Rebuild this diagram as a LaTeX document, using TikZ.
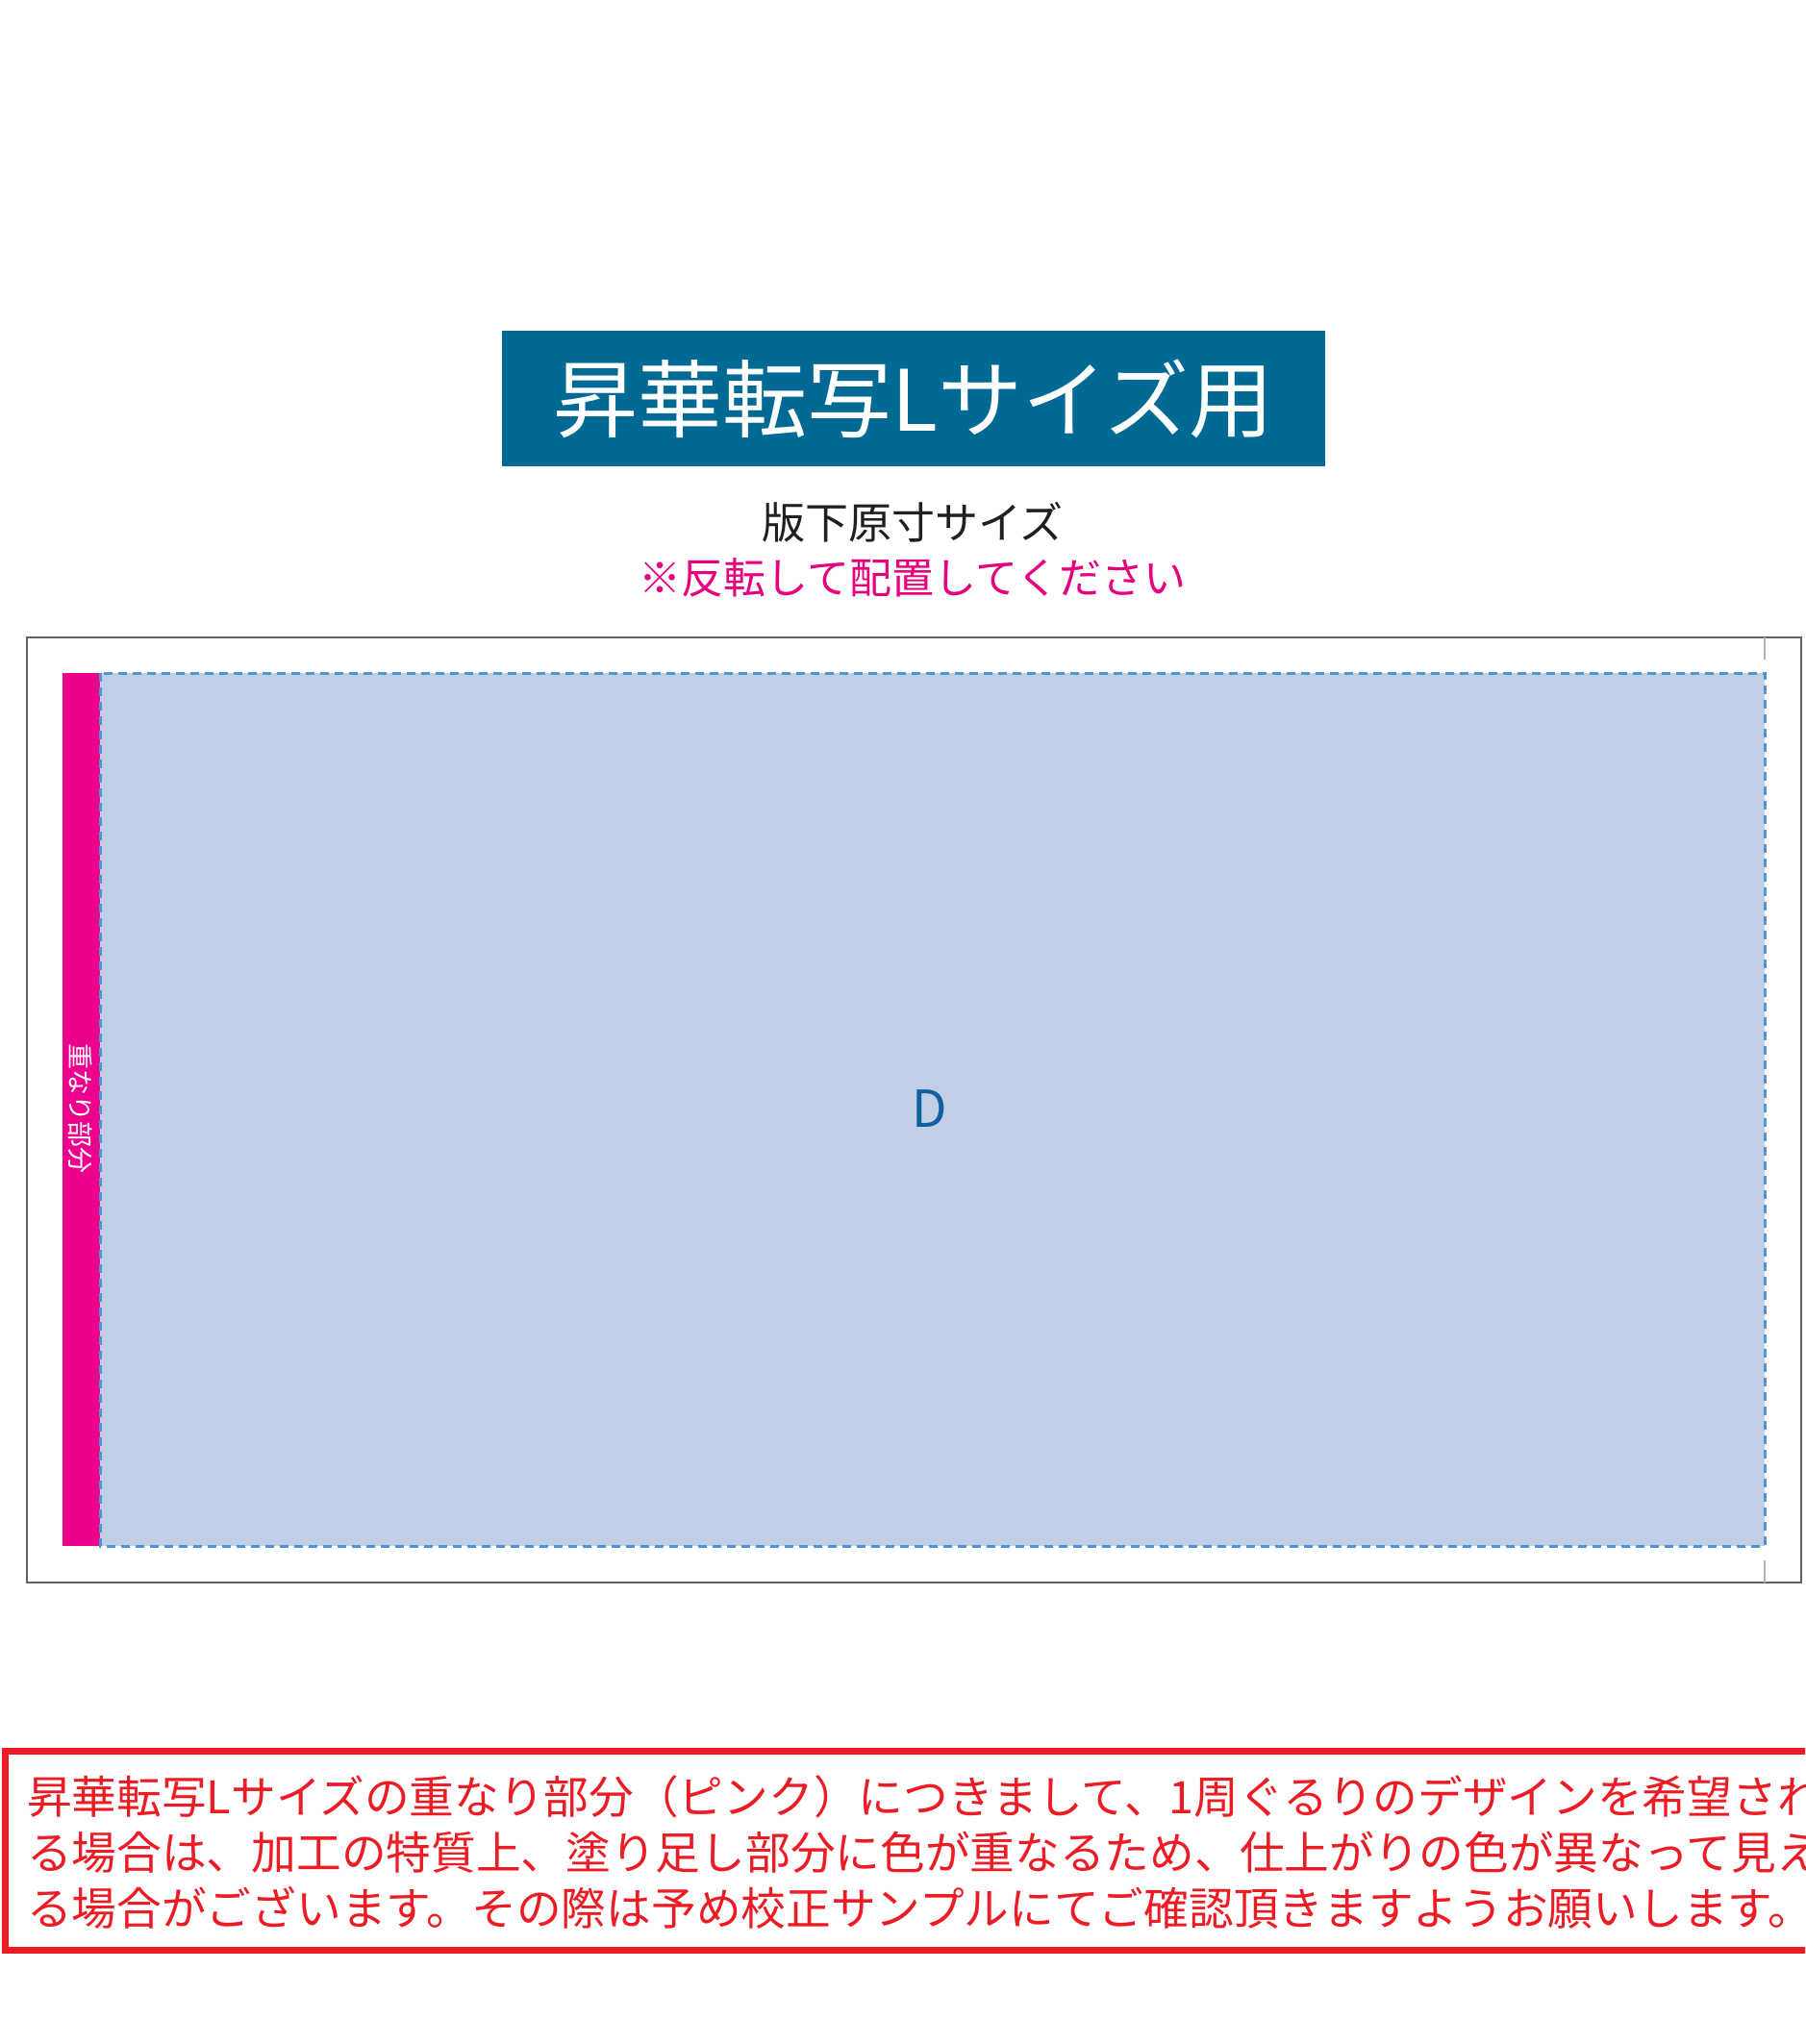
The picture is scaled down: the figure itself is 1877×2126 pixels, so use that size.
\documentclass[tikz,border=0pt]{standalone}
\usepackage{fontspec}
\newfontfamily\jp{Noto Sans CJK JP}
\definecolor{titleblue}{RGB}{0,106,148}
\definecolor{notepink}{RGB}{230,0,126}
\definecolor{barpink}{RGB}{236,0,140}
\definecolor{areablue}{RGB}{192,207,229}
\definecolor{dashblue}{RGB}{80,150,210}
\definecolor{dtext}{RGB}{16,96,160}
\definecolor{warnred}{RGB}{237,28,36}
\definecolor{darktext}{RGB}{35,31,32}
\tikzset{
  titlebox/.style={fill=titleblue, text=white, inner sep=0pt, minimum width=856pt, minimum height=141pt, font=\jp\fontsize{88}{100}\selectfont},
  subtext/.style={inner sep=0pt, font=\jp\fontsize{45}{50}\selectfont},
  warnline/.style={anchor=west, inner sep=0pt, text=warnred, font=\jp\fontsize{46.7}{50}\selectfont},
  frame/.style={draw=black!62, line width=2pt},
  tick/.style={draw=black!30, line width=2pt},
}
\begin{document}
\begin{tikzpicture}[x=1pt,y=-1pt]
\clip (0,0) rectangle (1877,2126);
\fill[white] (0,0) rectangle (1877,2126);
% title
\node[titlebox] (title) at (950,414.5) {昇華転写Lサイズ用};
\node[subtext, text=darktext] (sub1) at (949,543) {版下原寸サイズ};
\node[subtext, text=notepink, font=\jp\fontsize{44}{50}\selectfont] (sub2) at (949,601) {※反転して配置してください};
% outer frame
\draw[frame] (28,663) rectangle (1873,1646);
% pink overlap bar
\fill[barpink] (65,700) rectangle (104,1608);
\node[text=white, rotate=-90, inner sep=0pt, font=\jp\fontsize{27}{30}\selectfont] (overlap) at (84,1153) {重なり部分};
% blue area
\fill[areablue] (104,700) rectangle (1835,1608);
\draw[dashblue, line width=3pt, dash pattern=on 9pt off 6pt] (104,700) rectangle (1835,1608);
\node[text=dtext, inner sep=0pt, font=\jp\fontsize{53}{60}\selectfont] (D) at (967,1153) {D};
% ticks
\coordinate (t1) at (1835,663);
\coordinate (t2) at (1835,686);
\coordinate (t3) at (1835,1623);
\coordinate (t4) at (1835,1646);
\draw[tick] (t1) -- (t2);
\draw[tick] (t3) -- (t4);
% warning box
\draw[warnred, line width=7pt] (5,1821) rectangle (1900,2028);
\node[warnline] (w1) at (28,1869) {昇華転写Lサイズの重なり部分（ピンク）につきまして、1周ぐるりのデザインを希望され};
\node[warnline] (w2) at (28,1927) {る場合は、加工の特質上、塗り足し部分に色が重なるため、仕上がりの色が異なって見え};
\node[warnline] (w3) at (28,1984) {る場合がございます。その際は予め校正サンプルにてご確認頂きますようお願いします。};
\end{tikzpicture}
\end{document}
